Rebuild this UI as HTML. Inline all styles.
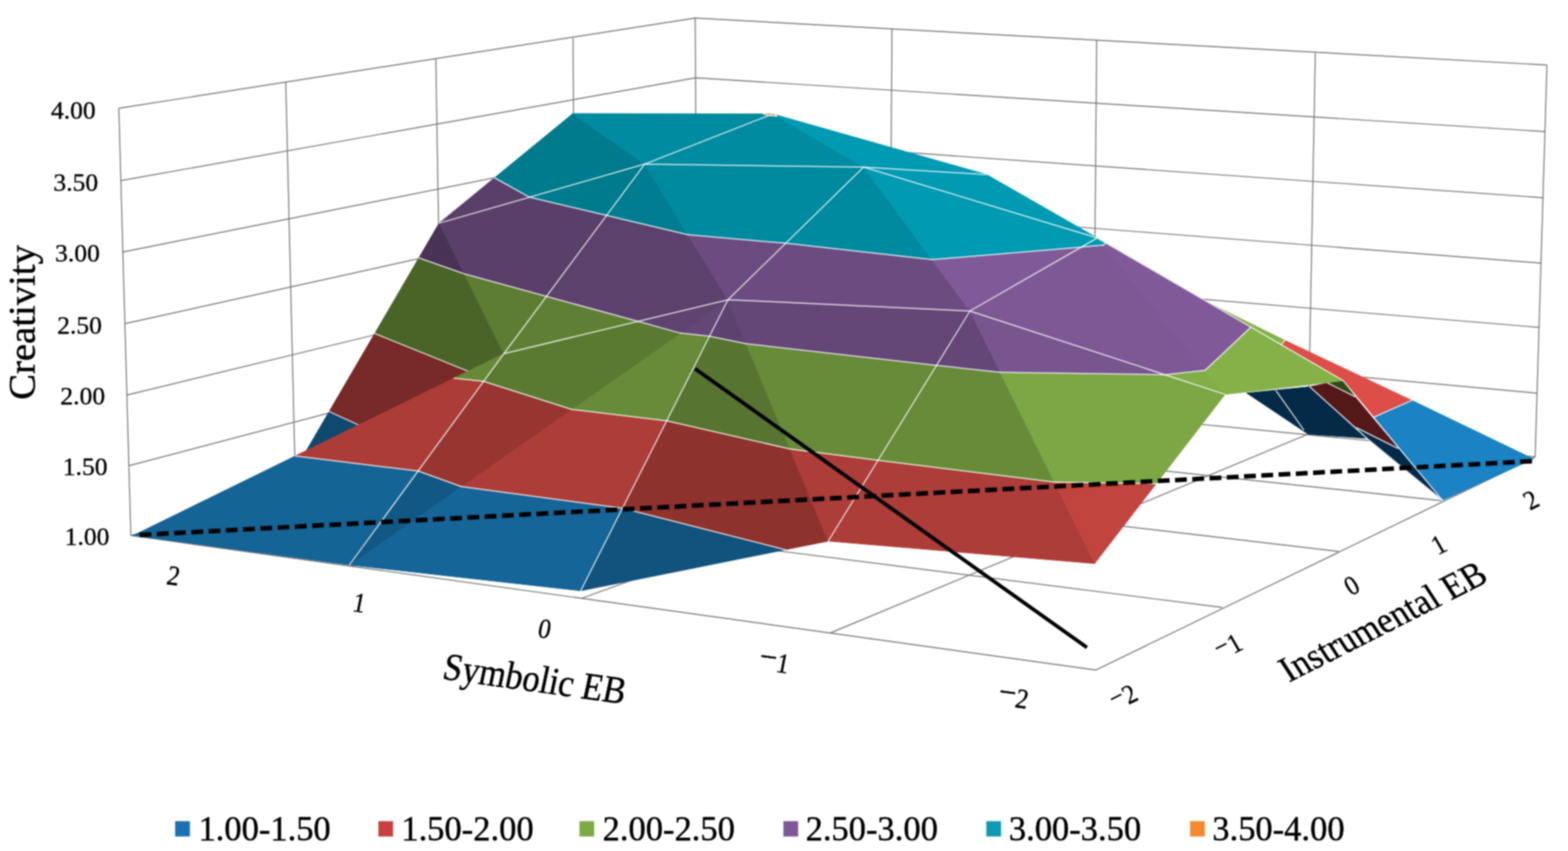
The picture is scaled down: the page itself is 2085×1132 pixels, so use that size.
<!DOCTYPE html>
<html lang="en"><head><meta charset="utf-8"><title>Creativity response surface</title>
<style>
html,body{margin:0;padding:0;background:#fff}
body{width:2085px;height:1132px;overflow:hidden}
svg{display:block}
text{font-family:"Liberation Serif","DejaVu Serif",serif;fill:#000;stroke:#000;stroke-width:.45px}
.b{stroke:#000;stroke-width:.55px}
.g{stroke:#767676;stroke-width:1.4;fill:none}
.w{stroke:#fff;stroke-opacity:.85;stroke-width:1.5;fill:none;stroke-linecap:round}
</style></head><body>
<svg width="2085" height="1132" viewBox="0 0 2085 1132">
<defs><filter id="soft" filterUnits="userSpaceOnUse" x="0" y="0" width="2085" height="1132" color-interpolation-filters="sRGB"><feConvolveMatrix order="5" kernelMatrix="0.00212 0.01118 0.01946 0.01118 0.00212 0.01118 0.05892 0.10253 0.05892 0.01118 0.01946 0.10253 0.17843 0.10253 0.01946 0.01118 0.05892 0.10253 0.05892 0.01118 0.00212 0.01118 0.01946 0.01118 0.00212" edgeMode="duplicate" preserveAlpha="true"/></filter></defs>
<g filter="url(#soft)">
<rect width="2085" height="1132" fill="#fff"/>
<g class="grid">
<polyline class="g" points="158.0,144.0 924.4,24.0 2057.0,86.5"/>
<polyline class="g" points="160.7,240.3 924.8,103.5 2054.4,175.0"/>
<polyline class="g" points="163.4,335.2 925.3,183.0 2051.8,263.0"/>
<polyline class="g" points="166.1,430.5 925.7,262.4 2049.2,350.0"/>
<polyline class="g" points="168.7,525.5 926.1,341.6 2046.5,435.5"/>
<polyline class="g" points="171.4,619.5 926.6,420.6 2043.9,523.0"/>
<polyline class="g" points="174.0,712.3 927.0,499.0 2041.3,607.8"/>
<line class="g" x1="158.0" y1="144.0" x2="174.0" y2="712.3"/>
<line class="g" x1="380.0" y1="110.0" x2="393.0" y2="651.0"/>
<line class="g" x1="579.5" y1="78.4" x2="588.0" y2="594.0"/>
<line class="g" x1="762.0" y1="50.5" x2="765.0" y2="542.0"/>
<line class="g" x1="924.4" y1="24.0" x2="927.0" y2="499.0"/>
<line class="g" x1="1186.0" y1="39.0" x2="1183.0" y2="522.0"/>
<line class="g" x1="1458.3" y1="53.7" x2="1454.0" y2="550.0"/>
<line class="g" x1="1749.0" y1="70.6" x2="1739.5" y2="577.4"/>
<line class="g" x1="2057.0" y1="86.5" x2="2041.3" y2="607.8"/>
<line class="g" x1="174.0" y1="712.3" x2="1457.0" y2="891.3"/>
<line class="g" x1="393.0" y1="651.0" x2="1625.0" y2="808.0"/>
<line class="g" x1="588.0" y1="594.0" x2="1780.0" y2="733.5"/>
<line class="g" x1="765.0" y1="542.0" x2="1917.0" y2="666.0"/>
<line class="g" x1="1457.0" y1="891.3" x2="2041.3" y2="607.8"/>
<line class="g" x1="467.0" y1="753.0" x2="1183.0" y2="522.0"/>
<line class="g" x1="773.5" y1="795.8" x2="1454.0" y2="550.0"/>
<line class="g" x1="1104.0" y1="842.0" x2="1739.5" y2="577.4"/>
</g>
<polygon points="1657.9,522.9 1741.8,514.6 1817.6,583.1 1739.5,577.4" fill="#042a48" stroke="#042a48" stroke-width="1" stroke-linejoin="round"/>
<polygon points="1612.0,405.2 1708.4,452.7 1703.9,458.2" fill="#84b248" stroke="#84b248" stroke-width="1" stroke-linejoin="round"/>
<polygon points="1703.9,458.2 1708.4,452.7 1877.3,532.6 1826.8,555.0 1786.0,506.3" fill="#de4e48" stroke="#de4e48" stroke-width="1" stroke-linejoin="round"/>
<polygon points="1826.8,555.0 1877.3,532.6 2039.0,610.5 1918.0,665.5 1858.9,596.5" fill="#1b82c3" stroke="#1b82c3" stroke-width="1" stroke-linejoin="round"/>
<polygon points="1765.5,509.5 1786.0,506.3 1801.5,527.5" fill="#2e4a14" stroke="#2e4a14" stroke-width="1" stroke-linejoin="round"/>
<polygon points="1741.8,514.6 1765.5,509.5 1801.5,527.5 1858.9,596.5 1803.8,569.0" fill="#541818" stroke="#541818" stroke-width="1" stroke-linejoin="round"/>
<polygon points="1803.8,569.0 1858.9,596.5 1918.0,665.5 1817.6,583.1" fill="#042a48" stroke="#042a48" stroke-width="1" stroke-linejoin="round"/>
<g class="mesh">
<line class="w" x1="1697.0" y1="520.0" x2="1733.5" y2="571.6"/>
<line class="w" x1="1741.8" y1="514.6" x2="1817.6" y2="583.1"/>
<line class="w" x1="1817.6" y1="583.1" x2="1918.0" y2="665.5"/>
<line class="w" x1="1765.5" y1="509.5" x2="1801.5" y2="527.5"/>
<line class="w" x1="1803.8" y1="569.0" x2="1858.9" y2="596.5"/>
<line class="w" x1="1877.3" y1="532.6" x2="1826.8" y2="555.0"/>
<line class="w" x1="1703.9" y1="458.2" x2="1708.4" y2="452.7"/>
<line class="w" x1="1786.0" y1="506.3" x2="1918.0" y2="665.5"/>
</g>
<polygon points="393.0,624.0 488.8,570.9 437.7,547.4" fill="#0f496d" stroke="#0f496d" stroke-width="1" stroke-linejoin="round"/>
<polygon points="488.8,570.9 625.6,495.1 498.3,443.6 437.7,547.4" fill="#772a27" stroke="#772a27" stroke-width="1" stroke-linejoin="round"/>
<polygon points="625.6,495.1 670.0,470.5 617.3,364.3 557.0,343.0 498.3,443.6" fill="#4a6428" stroke="#4a6428" stroke-width="1" stroke-linejoin="round"/>
<polygon points="617.3,364.3 583.9,296.9 557.0,343.0" fill="#483255" stroke="#483255" stroke-width="1" stroke-linejoin="round"/>
<g class="mesh">
<line class="w" x1="488.8" y1="570.9" x2="437.7" y2="547.4"/>
<line class="w" x1="625.6" y1="495.1" x2="498.3" y2="443.6"/>
<line class="w" x1="617.3" y1="364.3" x2="557.0" y2="343.0"/>
</g>
<polygon points="177.4,712.2 464.7,751.4 556.0,626.5 392.6,606.6" fill="#156496" stroke="#156496" stroke-width="1" stroke-linejoin="round"/>
<polygon points="556.0,626.5 643.1,507.3 603.7,503.0 392.6,606.6" fill="#ab3c37" stroke="#ab3c37" stroke-width="1" stroke-linejoin="round"/>
<polygon points="643.1,507.3 670.0,470.5 603.7,503.0" fill="#668937" stroke="#668937" stroke-width="1" stroke-linejoin="round"/>
<polygon points="670.0,470.5 726.6,394.3 617.3,364.3" fill="#5c7d32" stroke="#5c7d32" stroke-width="1" stroke-linejoin="round"/>
<polygon points="726.6,394.3 806.5,286.6 704.2,262.3 583.9,296.9 617.3,364.3" fill="#5a3f6a" stroke="#5a3f6a" stroke-width="1" stroke-linejoin="round"/>
<polygon points="806.5,286.6 857.2,218.3 704.2,262.3" fill="#007b8e" stroke="#007b8e" stroke-width="1" stroke-linejoin="round"/>
<polygon points="583.9,296.9 704.2,262.3 657.6,236.5" fill="#5a3f6a" stroke="#5a3f6a" stroke-width="1" stroke-linejoin="round"/>
<polygon points="704.2,262.3 857.2,218.3 761.8,151.1 657.6,236.5" fill="#007b8e" stroke="#007b8e" stroke-width="1" stroke-linejoin="round"/>
<polygon points="857.2,218.3 1022.9,153.4 1015.2,151.6 761.8,151.1" fill="#008ba0" stroke="#008ba0" stroke-width="1" stroke-linejoin="round"/>
<polygon points="1022.9,153.4 1027.5,151.6 1015.2,151.6" fill="#d07428" stroke="#d07428" stroke-width="1" stroke-linejoin="round"/>
<polygon points="464.7,751.4 772.2,785.8 827.7,676.1 613.3,647.2" fill="#156598" stroke="#156598" stroke-width="1" stroke-linejoin="round"/>
<polygon points="827.7,676.1 886.5,559.8 760.0,544.5 613.3,647.2" fill="#ad3d38" stroke="#ad3d38" stroke-width="1" stroke-linejoin="round"/>
<polygon points="886.5,559.8 943.4,447.3 904.7,443.1 760.0,544.5" fill="#678b38" stroke="#678b38" stroke-width="1" stroke-linejoin="round"/>
<polygon points="943.4,447.3 968.0,398.7 904.7,443.1" fill="#644677" stroke="#644677" stroke-width="1" stroke-linejoin="round"/>
<polygon points="464.7,751.4 556.0,626.5 613.3,647.2" fill="#125885" stroke="#125885" stroke-width="1" stroke-linejoin="round"/>
<polygon points="556.0,626.5 643.1,507.3 760.0,544.5 613.3,647.2" fill="#973531" stroke="#973531" stroke-width="1" stroke-linejoin="round"/>
<polygon points="643.1,507.3 670.0,470.5 848.6,427.5 904.7,443.1 760.0,544.5" fill="#5a7931" stroke="#5a7931" stroke-width="1" stroke-linejoin="round"/>
<polygon points="848.6,427.5 968.0,398.7 904.7,443.1" fill="#5f4370" stroke="#5f4370" stroke-width="1" stroke-linejoin="round"/>
<polygon points="670.0,470.5 848.6,427.5 726.6,394.3" fill="#5f8034" stroke="#5f8034" stroke-width="1" stroke-linejoin="round"/>
<polygon points="848.6,427.5 968.0,398.7 914.9,312.3 806.5,286.6 726.6,394.3" fill="#5c416d" stroke="#5c416d" stroke-width="1" stroke-linejoin="round"/>
<polygon points="914.9,312.3 857.2,218.3 806.5,286.6" fill="#007d91" stroke="#007d91" stroke-width="1" stroke-linejoin="round"/>
<polygon points="968.0,398.7 1044.8,323.6 914.9,312.3" fill="#6c4c80" stroke="#6c4c80" stroke-width="1" stroke-linejoin="round"/>
<polygon points="1044.8,323.6 1148.4,222.2 857.2,218.3 914.9,312.3" fill="#008a9f" stroke="#008a9f" stroke-width="1" stroke-linejoin="round"/>
<polygon points="857.2,218.3 1148.4,222.2 1032.7,154.6 1022.9,153.4" fill="#008ba0" stroke="#008ba0" stroke-width="1" stroke-linejoin="round"/>
<polygon points="1032.7,154.6 1027.5,151.6 1022.9,153.4" fill="#d07428" stroke="#d07428" stroke-width="1" stroke-linejoin="round"/>
<polygon points="1148.4,222.2 1311.8,232.2 1030.9,152.6 1032.7,154.6" fill="#009ab2" stroke="#009ab2" stroke-width="1" stroke-linejoin="round"/>
<polygon points="1030.9,152.6 1027.5,151.6 1032.7,154.6" fill="#f5892f" stroke="#f5892f" stroke-width="1" stroke-linejoin="round"/>
<polygon points="772.2,785.8 1044.2,731.2 827.7,676.1" fill="#11537d" stroke="#11537d" stroke-width="1" stroke-linejoin="round"/>
<polygon points="1044.2,731.2 1101.4,719.7 1050.5,597.2 886.5,559.8 827.7,676.1" fill="#8e322e" stroke="#8e322e" stroke-width="1" stroke-linejoin="round"/>
<polygon points="1050.5,597.2 992.3,457.2 943.4,447.3 886.5,559.8" fill="#577530" stroke="#577530" stroke-width="1" stroke-linejoin="round"/>
<polygon points="992.3,457.2 968.0,398.7 943.4,447.3" fill="#5d426f" stroke="#5d426f" stroke-width="1" stroke-linejoin="round"/>
<polygon points="1101.4,719.7 1167.5,612.3 1050.5,597.2" fill="#ad3d38" stroke="#ad3d38" stroke-width="1" stroke-linejoin="round"/>
<polygon points="1167.5,612.3 1245.3,486.0 992.3,457.2 1050.5,597.2" fill="#678b38" stroke="#678b38" stroke-width="1" stroke-linejoin="round"/>
<polygon points="1245.3,486.0 1289.8,413.7 968.0,398.7 992.3,457.2" fill="#644677" stroke="#644677" stroke-width="1" stroke-linejoin="round"/>
<polygon points="968.0,398.7 1289.8,413.7 1239.3,345.3 1044.8,323.6" fill="#6c4c80" stroke="#6c4c80" stroke-width="1" stroke-linejoin="round"/>
<polygon points="1239.3,345.3 1148.4,222.2 1044.8,323.6" fill="#008a9f" stroke="#008a9f" stroke-width="1" stroke-linejoin="round"/>
<polygon points="1289.8,413.7 1437.6,328.8 1239.3,345.3" fill="#805a98" stroke="#805a98" stroke-width="1" stroke-linejoin="round"/>
<polygon points="1437.6,328.8 1459.0,316.5 1148.4,222.2 1239.3,345.3" fill="#009ab2" stroke="#009ab2" stroke-width="1" stroke-linejoin="round"/>
<polygon points="1148.4,222.2 1459.0,316.5 1311.8,232.2" fill="#009ab2" stroke="#009ab2" stroke-width="1" stroke-linejoin="round"/>
<polygon points="1101.4,719.7 1455.6,749.6 1402.1,641.3 1167.5,612.3" fill="#ad3d38" stroke="#ad3d38" stroke-width="1" stroke-linejoin="round"/>
<polygon points="1402.1,641.3 1330.0,495.2 1245.3,486.0 1167.5,612.3" fill="#678b38" stroke="#678b38" stroke-width="1" stroke-linejoin="round"/>
<polygon points="1330.0,495.2 1289.8,413.7 1245.3,486.0" fill="#644677" stroke="#644677" stroke-width="1" stroke-linejoin="round"/>
<polygon points="1455.6,749.6 1537.4,643.4 1402.1,641.3" fill="#c1443f" stroke="#c1443f" stroke-width="1" stroke-linejoin="round"/>
<polygon points="1537.4,643.4 1629.0,524.6 1548.8,498.4 1330.0,495.2 1402.1,641.3" fill="#7ca744" stroke="#7ca744" stroke-width="1" stroke-linejoin="round"/>
<polygon points="1548.8,498.4 1289.8,413.7 1330.0,495.2" fill="#78558f" stroke="#78558f" stroke-width="1" stroke-linejoin="round"/>
<polygon points="1548.8,498.4 1629.0,524.6 1602.7,492.4" fill="#81ae47" stroke="#81ae47" stroke-width="1" stroke-linejoin="round"/>
<polygon points="1289.8,413.7 1548.8,498.4 1602.7,492.4 1466.8,326.1 1437.6,328.8" fill="#7d5895" stroke="#7d5895" stroke-width="1" stroke-linejoin="round"/>
<polygon points="1466.8,326.1 1459.0,316.5 1437.6,328.8" fill="#0098b0" stroke="#0098b0" stroke-width="1" stroke-linejoin="round"/>
<polygon points="1629.0,524.6 1786.0,506.3 1663.4,435.1 1602.7,492.4" fill="#84b248" stroke="#84b248" stroke-width="1" stroke-linejoin="round"/>
<polygon points="1663.4,435.1 1470.7,323.3 1466.8,326.1 1602.7,492.4" fill="#805a98" stroke="#805a98" stroke-width="1" stroke-linejoin="round"/>
<polygon points="1470.7,323.3 1459.0,316.5 1466.8,326.1" fill="#009ab2" stroke="#009ab2" stroke-width="1" stroke-linejoin="round"/>
<g class="mesh">
<line class="w" x1="556.0" y1="626.5" x2="392.6" y2="606.6"/>
<line class="w" x1="643.1" y1="507.3" x2="603.7" y2="503.0"/>
<line class="w" x1="726.6" y1="394.3" x2="617.3" y2="364.3"/>
<line class="w" x1="806.5" y1="286.6" x2="704.2" y2="262.3"/>
<line class="w" x1="704.2" y1="262.3" x2="657.6" y2="236.5"/>
<line class="w" x1="1022.9" y1="153.4" x2="1015.2" y2="151.6"/>
<line class="w" x1="827.7" y1="676.1" x2="613.3" y2="647.2"/>
<line class="w" x1="886.5" y1="559.8" x2="760.0" y2="544.5"/>
<line class="w" x1="943.4" y1="447.3" x2="904.7" y2="443.1"/>
<line class="w" x1="556.0" y1="626.5" x2="613.3" y2="647.2"/>
<line class="w" x1="643.1" y1="507.3" x2="760.0" y2="544.5"/>
<line class="w" x1="848.6" y1="427.5" x2="904.7" y2="443.1"/>
<line class="w" x1="848.6" y1="427.5" x2="726.6" y2="394.3"/>
<line class="w" x1="914.9" y1="312.3" x2="806.5" y2="286.6"/>
<line class="w" x1="1044.8" y1="323.6" x2="914.9" y2="312.3"/>
<line class="w" x1="1032.7" y1="154.6" x2="1022.9" y2="153.4"/>
<line class="w" x1="1030.9" y1="152.6" x2="1032.7" y2="154.6"/>
<line class="w" x1="1044.2" y1="731.2" x2="827.7" y2="676.1"/>
<line class="w" x1="1050.5" y1="597.2" x2="886.5" y2="559.8"/>
<line class="w" x1="992.3" y1="457.2" x2="943.4" y2="447.3"/>
<line class="w" x1="1167.5" y1="612.3" x2="1050.5" y2="597.2"/>
<line class="w" x1="1245.3" y1="486.0" x2="992.3" y2="457.2"/>
<line class="w" x1="1239.3" y1="345.3" x2="1044.8" y2="323.6"/>
<line class="w" x1="1437.6" y1="328.8" x2="1239.3" y2="345.3"/>
<line class="w" x1="1402.1" y1="641.3" x2="1167.5" y2="612.3"/>
<line class="w" x1="1330.0" y1="495.2" x2="1245.3" y2="486.0"/>
<line class="w" x1="1537.4" y1="643.4" x2="1402.1" y2="641.3"/>
<line class="w" x1="1548.8" y1="498.4" x2="1330.0" y2="495.2"/>
<line class="w" x1="1548.8" y1="498.4" x2="1602.7" y2="492.4"/>
<line class="w" x1="1466.8" y1="326.1" x2="1437.6" y2="328.8"/>
<line class="w" x1="1663.4" y1="435.1" x2="1602.7" y2="492.4"/>
<line class="w" x1="1470.7" y1="323.3" x2="1466.8" y2="326.1"/>
<polyline class="w" points="464.7,751.4 670.0,470.5 857.2,218.3 1027.5,151.6"/>
<polyline class="w" points="772.2,785.8 968.0,398.7 1148.4,222.2 1311.8,232.2"/>
<polyline class="w" points="1101.4,719.7 1289.8,413.7 1459.0,316.5"/>
<polyline class="w" points="670.0,470.5 968.0,398.7 1289.8,413.7 1629.0,524.6"/>
<polyline class="w" points="583.9,296.9 857.2,218.3 1148.4,222.2 1459.0,316.5 1786.0,506.3"/>
</g>
<line x1="185.6" y1="711.6" x2="2037.1" y2="613.5" stroke="#000" stroke-width="6" stroke-dasharray="15.7 7.28"/>
<line x1="924.3" y1="490.5" x2="1445.3" y2="861.3" stroke="#000" stroke-width="4.9"/>
<text x="127.2" y="158.2" font-size="34" text-anchor="end">4.00</text>
<text x="130.6" y="254.0" font-size="34" text-anchor="end">3.50</text>
<text x="132.8" y="347.6" font-size="34" text-anchor="end">3.00</text>
<text x="135.5" y="443.9" font-size="34" text-anchor="end">2.50</text>
<text x="139.7" y="537.9" font-size="34" text-anchor="end">2.00</text>
<text x="143.0" y="631.5" font-size="34" text-anchor="end">1.50</text>
<text x="145.5" y="724.8" font-size="34" text-anchor="end">1.00</text>
<text x="0.0" y="0.0" font-size="51.5" text-anchor="middle" transform="translate(45.5 428.8) rotate(-90)" class="b">Creativity</text>
<text x="0.0" y="0.0" font-size="51.5" text-anchor="middle" transform="matrix(0.8766 0.1216 -0.2079 0.9781 707.8 919.6)" class="b">Symbolic EB</text>
<text x="0.0" y="0.0" font-size="37" text-anchor="middle" transform="matrix(0.8915 0.1237 -0.19 0.98 228.5 778.0)">2</text>
<text x="0.0" y="0.0" font-size="37" text-anchor="middle" transform="matrix(0.8915 0.1237 -0.19 0.98 475.5 814.0)">1</text>
<text x="0.0" y="0.0" font-size="37" text-anchor="middle" transform="matrix(0.8915 0.1237 -0.19 0.98 722.1 848.5)">0</text>
<text x="0.0" y="0.0" font-size="37" text-anchor="middle" transform="matrix(0.8915 0.1237 -0.19 0.98 1027.1 893.0)"><tspan font-size="46" dy="-3">−</tspan><tspan dy="3">1</tspan></text>
<text x="0.0" y="0.0" font-size="37" text-anchor="middle" transform="matrix(0.8915 0.1237 -0.19 0.98 1345.1 940.0)"><tspan font-size="46" dy="-3">−</tspan><tspan dy="3">2</tspan></text>
<text x="0.0" y="0.0" font-size="51.5" text-anchor="middle" transform="matrix(0.7875 -0.3995 0.523 0.805 1847.5 840.2)" class="b">Instrumental EB</text>
<text x="0.0" y="0.0" font-size="36.5" text-anchor="middle" transform="matrix(0.805 -0.403 0.5 0.866 1500.0 938.0)"><tspan font-size="36" dy="-5">−</tspan><tspan dy="5">2</tspan></text>
<text x="0.0" y="0.0" font-size="36.5" text-anchor="middle" transform="matrix(0.805 -0.403 0.5 0.866 1639.5 870.5)"><tspan font-size="36" dy="-5">−</tspan><tspan dy="5">1</tspan></text>
<text x="0.0" y="0.0" font-size="36.5" text-anchor="middle" transform="matrix(0.805 -0.403 0.5 0.866 1803.3 789.3)">0</text>
<text x="0.0" y="0.0" font-size="36.5" text-anchor="middle" transform="matrix(0.805 -0.403 0.5 0.866 1919.0 735.1)">1</text>
<text x="0.0" y="0.0" font-size="36.5" text-anchor="middle" transform="matrix(0.805 -0.403 0.5 0.866 2041.8 675.7)">2</text>
<rect x="232.9" y="1092.3" width="19.6" height="20.4" fill="#1a72b4"/>
<text x="263.9" y="1117.7" font-size="45.9" text-anchor="start" class="b">1.00-1.50</text>
<rect x="503.1" y="1092.3" width="19.6" height="20.4" fill="#c84040"/>
<text x="533.7" y="1117.7" font-size="45.9" text-anchor="start" class="b">1.50-2.00</text>
<rect x="770.5" y="1092.3" width="19.6" height="20.4" fill="#7eaa42"/>
<text x="801.3" y="1117.7" font-size="45.9" text-anchor="start" class="b">2.00-2.50</text>
<rect x="1041.7" y="1092.3" width="19.6" height="20.4" fill="#7d5998"/>
<text x="1071.2" y="1117.7" font-size="45.9" text-anchor="start" class="b">2.50-3.00</text>
<rect x="1311.5" y="1092.3" width="19.6" height="20.4" fill="#0e9ab5"/>
<text x="1341.5" y="1117.7" font-size="45.9" text-anchor="start" class="b">3.00-3.50</text>
<rect x="1582.5" y="1092.3" width="19.6" height="20.4" fill="#f5892f"/>
<text x="1612.0" y="1117.7" font-size="45.9" text-anchor="start" class="b">3.50-4.00</text>
</g>
</svg>
</body></html>
